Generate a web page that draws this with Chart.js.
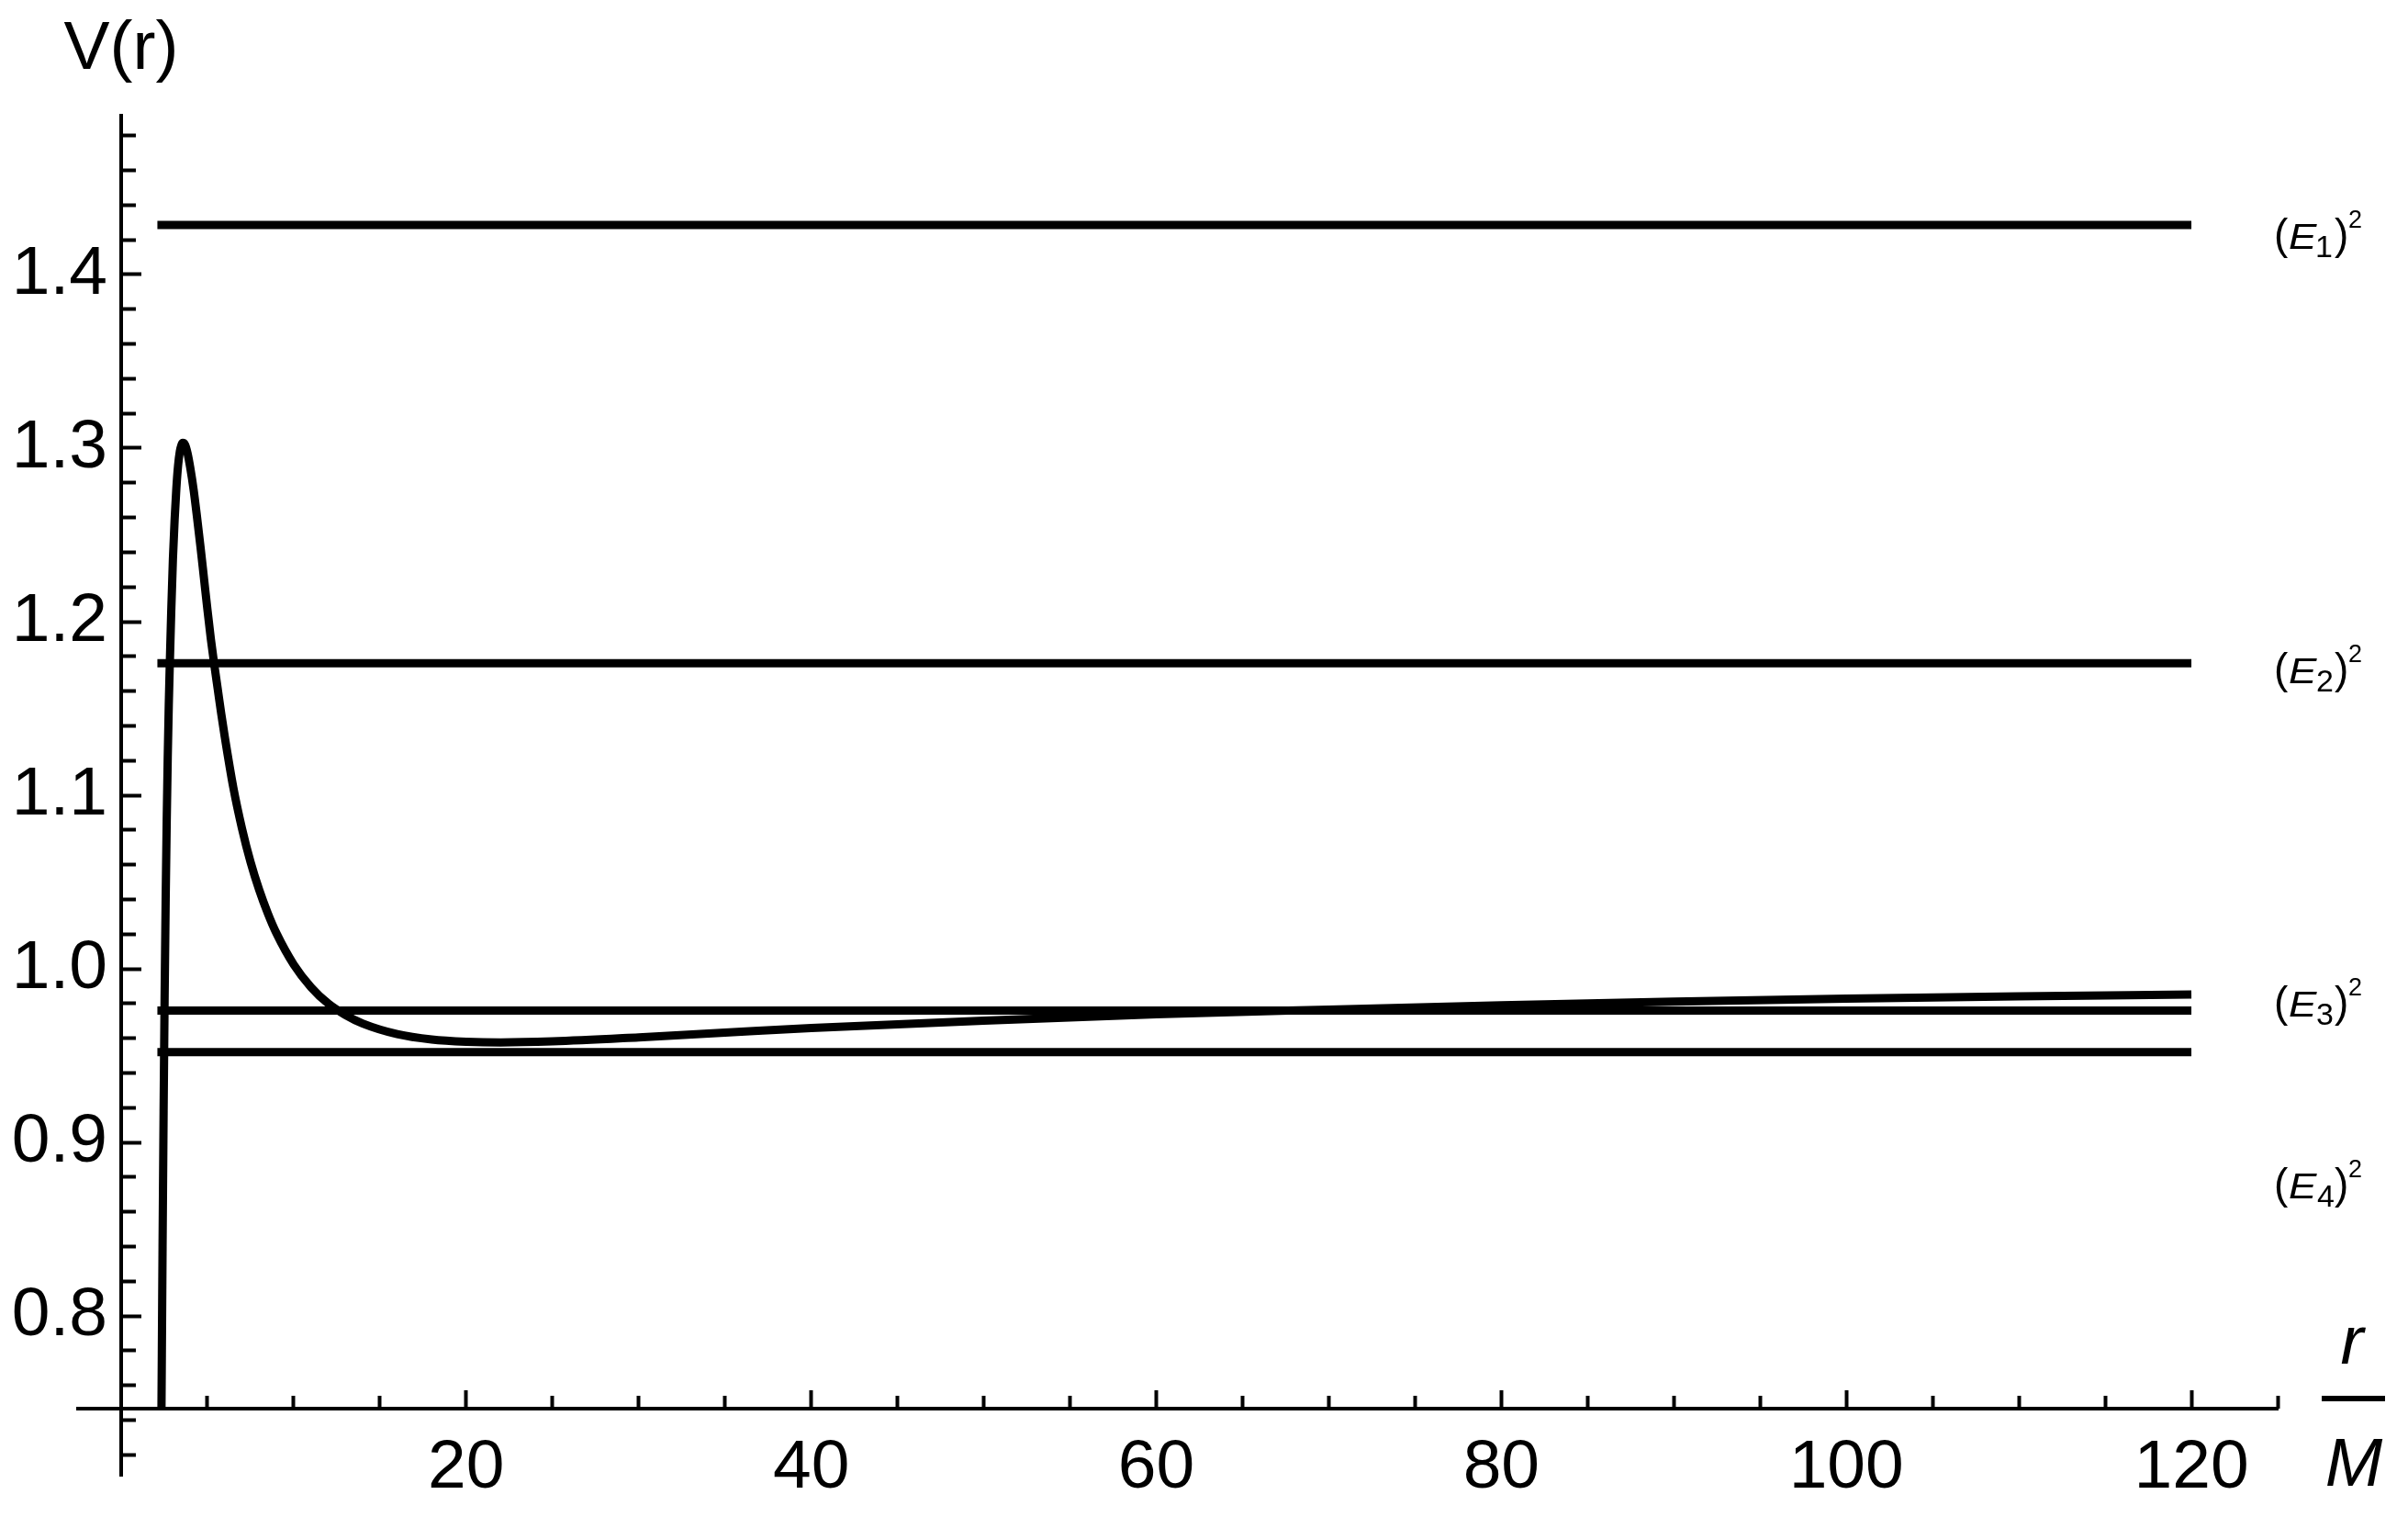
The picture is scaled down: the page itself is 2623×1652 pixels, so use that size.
<!DOCTYPE html>
<html>
<head>
<meta charset="utf-8">
<script src="https://cdn.jsdelivr.net/npm/chart.js@4.4.1/dist/chart.umd.min.js"></script>
<style>
  html, body { margin: 0; padding: 0; background: #ffffff; }
  #wrap { width: 2623px; height: 1652px; }
  canvas { display: block; }
</style>
</head>
<body>
<div id="wrap"><canvas id="c" width="2623" height="1652"></canvas></div>
<script>
// ---- data ----
const rValues = [2.337, 2.40, 2.46, 2.52, 2.58, 2.64, 2.70, 2.76, 2.82, 2.90, 3.00, 3.10, 3.20, 3.30, 3.40, 3.50, 3.57, 3.70, 3.85, 4.00, 4.20, 4.40, 4.60, 4.80, 5.00, 5.20, 5.40, 5.60, 5.80, 6.00, 6.50, 7.00, 7.50, 8.00, 8.50, 9.00, 10.0, 11.0, 12.0, 13.0, 14.0, 16.0, 18.0, 20.0, 22.0, 25.0, 30.0, 35.0, 40.0, 50.0, 60.0, 70.0, 80.0, 90.0, 100.0, 110.0, 120.0];
const vValues = [0.7467, 0.840, 0.918, 0.985, 1.040, 1.085, 1.122, 1.152, 1.176, 1.205, 1.236, 1.259, 1.277, 1.290, 1.298, 1.302, 1.303, 1.302, 1.297, 1.289, 1.276, 1.260, 1.243, 1.225, 1.207, 1.190, 1.175, 1.161, 1.147, 1.134, 1.1045, 1.081, 1.0615, 1.0455, 1.032, 1.0205, 1.0025, 0.9895, 0.9800, 0.9734, 0.9685, 0.9624, 0.9593, 0.9580, 0.9576, 0.9582, 0.9605, 0.9632, 0.9659, 0.9702, 0.9738, 0.9765, 0.9790, 0.9811, 0.9828, 0.9842, 0.9852];
const energyLevels = [1.4286, 1.176, 0.976, 0.952];
const energyIndices = ['1', '2', '3', '4'];
const levelRange = [2.1, 120];
const xMajorTicks = [20, 40, 60, 80, 100, 120];
const xMinorTicks = [5, 10, 15, 25, 30, 35, 45, 50, 55, 65, 70, 75, 85, 90, 95, 105, 110, 115, 125];
const yMajorTicks = [0.8, 0.9, 1.0, 1.1, 1.2, 1.3, 1.4];
const yMinorTicks = [0.72, 0.74, 0.76, 0.78, 0.82, 0.84, 0.86, 0.88, 0.92, 0.94, 0.96, 0.98, 1.02, 1.04, 1.06, 1.08, 1.12, 1.14, 1.16, 1.18, 1.22, 1.24, 1.26, 1.28, 1.32, 1.34, 1.36, 1.38, 1.42, 1.44, 1.46, 1.48];

// ---- layout / style (not data) ----
const X_MIN = -2.5, X_MAX = 125, Y_MIN = 0.708, Y_MAX = 1.4915, X_AXIS_AT = 0.7467, Y_AXIS_AT = 0;
const FONT = '"Liberation Sans", Arial, Helvetica, sans-serif';
const labelAnchors = [1.4212, 1.1709, 0.9788, 0.874]; // vertical centres of the level labels (y units)
const labelLeftR = 124.9;

const curveData = rValues.map((r, i) => ({ x: r, y: vValues[i] }));
const levelDatasets = energyLevels.map(e => ({
  data: [{ x: levelRange[0], y: e }, { x: levelRange[1], y: e }],
  borderColor: '#000', borderWidth: 9, pointRadius: 0, showLine: true, fill: false
}));

function setTicks(list) { return scale => { scale.ticks = list.map(v => ({ value: v })); }; }
function noPad(scale) { scale.paddingTop = 0; scale.paddingBottom = 0; scale.paddingLeft = 0; scale.paddingRight = 0; }

function drawPiece(ctx, text, font, inkLeft, baseline, sx) {
  ctx.save();
  ctx.font = font;
  const m = ctx.measureText(text);
  ctx.translate(inkLeft, baseline);
  ctx.scale(sx || 1, 1);
  ctx.fillText(text, m.actualBoundingBoxLeft, 0);
  ctx.restore();
}

const textPlugin = {
  id: 'texts',
  afterDraw(chart) {
    const ctx = chart.ctx, xs = chart.scales.x, ys = chart.scales.y;
    ctx.save();
    ctx.fillStyle = '#000';
    // V(r) above the vertical axis
    ctx.font = '75px ' + FONT;
    ctx.textAlign = 'center';
    ctx.textBaseline = 'alphabetic';
    ctx.fillText('V(r)', xs.getPixelForValue(Y_AXIS_AT), 75);
    // r / M at the end of the horizontal axis
    ctx.font = 'italic 75px ' + FONT;
    ctx.fillText('r', 2562, 1485);
    ctx.fillText('M', 2564, 1618);
    ctx.fillRect(2529, 1520, 69, 6);
    // level labels (E_i)^2
    ctx.textAlign = 'left';
    const left = xs.getPixelForValue(labelLeftR);
    energyIndices.forEach((idx, i) => {
      const base = ys.getPixelForValue(labelAnchors[i]) + 12;
      drawPiece(ctx, '(', '46px ' + FONT, left, base);
      drawPiece(ctx, 'E', 'italic 38px ' + FONT, left + 15, base, 1.2);
      drawPiece(ctx, idx, '34px ' + FONT, left + 45, base + 9);
      drawPiece(ctx, ')', '46px ' + FONT, left + 64, base);
      drawPiece(ctx, '2', '27px ' + FONT, left + 80, base - 23);
    });
    ctx.restore();
  }
};

const commonMinor = {
  type: 'linear',
  ticks: { display: false, autoSkip: false },
  border: { display: false },
  afterFit: noPad
};

new Chart(document.getElementById('c'), {
  type: 'scatter',
  data: {
    datasets: [
      { data: curveData, borderColor: '#000', borderWidth: 9, pointRadius: 0, showLine: true, fill: false, cubicInterpolationMode: 'monotone' },
      ...levelDatasets
    ]
  },
  options: {
    responsive: false,
    devicePixelRatio: 1,
    animation: false,
    events: [],
    layout: { padding: { left: 85, right: 142, top: 126, bottom: 45 } },
    plugins: { legend: { display: false }, tooltip: { enabled: false } },
    scales: {
      x: {
        type: 'linear', min: X_MIN, max: X_MAX,
        position: { y: X_AXIS_AT },
        afterBuildTicks: setTicks(xMajorTicks),
        afterFit: noPad,
        ticks: { autoSkip: false, maxRotation: 0, minRotation: 0, padding: 42, color: '#000', font: { family: FONT, size: 75 }, callback: v => String(v) },
        grid: { drawOnChartArea: false, drawTicks: true, tickLength: -22, tickWidth: 4, tickColor: '#000' },
        border: { display: true, color: '#000', width: 4 }
      },
      x2: Object.assign({}, commonMinor, {
        axis: 'x', min: X_MIN, max: X_MAX,
        position: { y: X_AXIS_AT },
        afterBuildTicks: setTicks(xMinorTicks),
        grid: { drawOnChartArea: false, drawTicks: true, tickLength: -14, tickWidth: 4, tickColor: '#000' }
      }),
      y: {
        type: 'linear', min: Y_MIN, max: Y_MAX,
        position: { x: Y_AXIS_AT },
        afterBuildTicks: setTicks(yMajorTicks),
        afterFit: noPad,
        ticks: { autoSkip: false, padding: 0, color: '#000', font: { family: FONT, size: 75 }, callback: v => Number(v).toFixed(1) + '\u2009' },
        grid: { drawOnChartArea: false, drawTicks: true, tickLength: -24, tickWidth: 4, tickColor: '#000' },
        border: { display: true, color: '#000', width: 4 }
      },
      y2: Object.assign({}, commonMinor, {
        axis: 'y', min: Y_MIN, max: Y_MAX,
        position: { x: Y_AXIS_AT },
        afterBuildTicks: setTicks(yMinorTicks),
        grid: { drawOnChartArea: false, drawTicks: true, tickLength: -16, tickWidth: 4, tickColor: '#000' }
      })
    }
  },
  plugins: [textPlugin]
});
</script>
</body>
</html>
